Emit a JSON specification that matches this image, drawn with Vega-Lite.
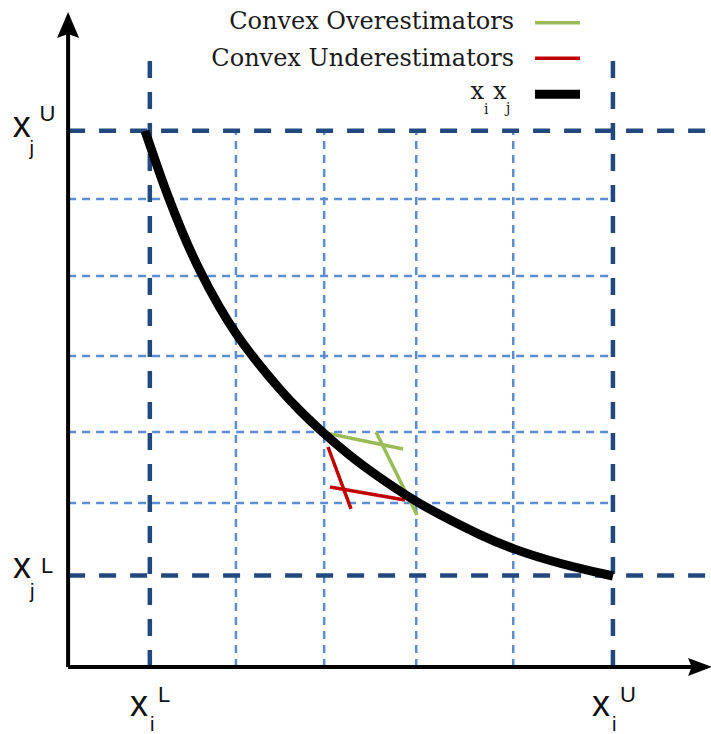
{
  "$schema": "https://vega.github.io/schema/vega-lite/v6.json",
  "width": 711,
  "height": 734,
  "padding": 0,
  "autosize": {"type": "none"},
  "config": {"view": {"stroke": null}},
  "datasets": {
    "thin": [
      {"x": 30.8, "y": 0, "x2": 30.8, "y2": 100},
      {"x": 47.0, "y": 0, "x2": 47.0, "y2": 100},
      {"x": 63.9, "y": 0, "x2": 63.9, "y2": 100},
      {"x": 81.7, "y": 0, "x2": 81.7, "y2": 100},
      {"x": 0, "y": 87.28, "x2": 100, "y2": 87.28},
      {"x": 0, "y": 72.92, "x2": 100, "y2": 72.92},
      {"x": 0, "y": 58.0, "x2": 100, "y2": 58.0},
      {"x": 0, "y": 43.83, "x2": 100, "y2": 43.83},
      {"x": 0, "y": 30.59, "x2": 100, "y2": 30.59}
    ],
    "thick": [
      {"x": 15.0, "y": 0, "x2": 15.0, "y2": 115.1},
      {"x": 100.0, "y": 0, "x2": 100.0, "y2": 115.1},
      {"x": 0, "y": 100.0, "x2": 118, "y2": 100.0},
      {"x": 0, "y": 17.06, "x2": 118, "y2": 17.06}
    ],
    "curve": [
      {"x": 14.12, "y": 99.97}, {"x": 16.32, "y": 93.44}, {"x": 18.15, "y": 88.22},
      {"x": 20.91, "y": 81.13}, {"x": 23.84, "y": 74.42}, {"x": 27.88, "y": 66.77},
      {"x": 30.82, "y": 62.11}, {"x": 33.76, "y": 58.0}, {"x": 38.9, "y": 51.66},
      {"x": 42.57, "y": 47.74}, {"x": 46.6, "y": 43.83}, {"x": 51.74, "y": 39.35},
      {"x": 57.25, "y": 35.25}, {"x": 63.86, "y": 30.77}, {"x": 70.1, "y": 27.41},
      {"x": 75.61, "y": 24.62}, {"x": 81.48, "y": 22.01}, {"x": 90.29, "y": 19.21},
      {"x": 100.02, "y": 16.97}
    ],
    "est": [
      {"x": 47.34, "y": 43.64, "x2": 61.47, "y2": 40.66, "kind": "over"},
      {"x": 56.52, "y": 43.83, "x2": 64.04, "y2": 28.35, "kind": "over"},
      {"x": 47.71, "y": 41.03, "x2": 51.93, "y2": 29.47, "kind": "under"},
      {"x": 48.07, "y": 33.57, "x2": 61.84, "y2": 31.14, "kind": "under"},
      {"x": 85.7, "y": 120.15, "x2": 93.96, "y2": 120.15, "kind": "over"},
      {"x": 85.7, "y": 113.53, "x2": 93.96, "y2": 113.53, "kind": "under"}
    ],
    "legendBlack": [
      {"x": 85.7, "y": 106.81, "x2": 93.96, "y2": 106.81}
    ],
    "yArrow": [{"x": 0, "y": 119.74}],
    "xArrow": [{"x": 115.99, "y": 0}],
    "axisLines": [
      {"x": 0, "y": 0, "x2": 0, "y2": 118.2},
      {"x": 0, "y": 0, "x2": 114.5, "y2": 0}
    ],
    "legendText": [
      {"x": 81.85, "y": 118.99, "text": "Convex Overestimators"},
      {"x": 81.85, "y": 112.09, "text": "Convex Underestimators"}
    ],
    "legendX": [
      {"x": 73.86, "y": 105.94, "text": "x"},
      {"x": 77.99, "y": 105.94, "text": "x"}
    ],
    "legendSub": [
      {"x": 76.34, "y": 103.14, "text": "i"},
      {"x": 80.38, "y": 103.32, "text": "j"}
    ],
    "bigX": [
      {"x": -10.17, "y": 98.85, "text": "x"},
      {"x": -10.11, "y": 16.6, "text": "x"},
      {"x": 11.36, "y": -9.14, "text": "x"},
      {"x": 96.16, "y": -9.14, "text": "x"}
    ],
    "subs": [
      {"x": -7.09, "y": 95.49, "text": "j"},
      {"x": -6.99, "y": 12.87, "text": "j"},
      {"x": 15.03, "y": -11.94, "text": "i"},
      {"x": 99.83, "y": -11.94, "text": "i"}
    ],
    "sups": [
      {"x": -5.25, "y": 101.83, "text": "U"},
      {"x": -4.97, "y": 17.53, "text": "L"},
      {"x": 16.5, "y": -6.53, "text": "L"},
      {"x": 101.3, "y": -6.53, "text": "U"}
    ]
  },
  "encoding": {
    "x": {"field": "x", "type": "quantitative", "scale": {"domain": [-12.5, 118], "nice": false, "zero": false}, "axis": null},
    "y": {"field": "y", "type": "quantitative", "scale": {"domain": [-12.5, 124.4], "nice": false, "zero": false}, "axis": null}
  },
  "layer": [
    {
      "data": {"name": "thin"},
      "mark": {"type": "rule", "color": "#5b8dd0", "strokeWidth": 2.5, "strokeDash": [8, 6]},
      "encoding": {"x2": {"field": "x2"}, "y2": {"field": "y2"}}
    },
    {
      "data": {"name": "thick"},
      "mark": {"type": "rule", "color": "#22497f", "strokeWidth": 4.5, "strokeDash": [17, 14]},
      "encoding": {"x2": {"field": "x2"}, "y2": {"field": "y2"}}
    },
    {
      "data": {"name": "est"},
      "mark": {"type": "rule", "strokeWidth": 3.5, "strokeCap": "butt"},
      "encoding": {
        "x2": {"field": "x2"}, "y2": {"field": "y2"},
        "color": {"field": "kind", "type": "nominal", "scale": {"domain": ["over", "under"], "range": ["#9bbb59", "#c00000"]}, "legend": null}
      }
    },
    {
      "data": {"name": "curve"},
      "mark": {"type": "line", "color": "#000000", "strokeWidth": 9, "interpolate": "basis", "strokeCap": "butt"},
      "encoding": {}
    },
    {
      "data": {"name": "legendBlack"},
      "mark": {"type": "rule", "color": "#000000", "strokeWidth": 9, "strokeCap": "butt"},
      "encoding": {"x2": {"field": "x2"}, "y2": {"field": "y2"}}
    },
    {
      "data": {"name": "axisLines"},
      "mark": {"type": "rule", "color": "#000000", "strokeWidth": 4, "strokeCap": "butt"},
      "encoding": {"x2": {"field": "x2"}, "y2": {"field": "y2"}}
    },
    {
      "data": {"name": "yArrow"},
      "mark": {"type": "point", "shape": "M0,-1L0.85,1L0,0.7L-0.85,1Z", "size": 676, "filled": true, "color": "#000000", "opacity": 1, "strokeWidth": 0}
    },
    {
      "data": {"name": "xArrow"},
      "mark": {"type": "point", "shape": "M1,0L-1,0.75L-0.7,0L-1,-0.75Z", "size": 576, "filled": true, "color": "#000000", "opacity": 1, "strokeWidth": 0}
    },
    {
      "data": {"name": "legendText"},
      "mark": {"type": "text", "font": "DejaVu Serif", "fontSize": 24, "align": "right", "baseline": "alphabetic", "color": "#1a1a1a"},
      "encoding": {"text": {"field": "text"}}
    },
    {
      "data": {"name": "legendX"},
      "mark": {"type": "text", "font": "DejaVu Serif", "fontSize": 24, "align": "left", "baseline": "alphabetic", "color": "#1a1a1a"},
      "encoding": {"text": {"field": "text"}}
    },
    {
      "data": {"name": "legendSub"},
      "mark": {"type": "text", "font": "DejaVu Serif", "fontSize": 14, "align": "left", "baseline": "alphabetic", "color": "#1a1a1a"},
      "encoding": {"text": {"field": "text"}}
    },
    {
      "data": {"name": "bigX"},
      "mark": {"type": "text", "font": "Liberation Sans", "fontSize": 36, "align": "left", "baseline": "alphabetic", "color": "#111111"},
      "encoding": {"text": {"field": "text"}}
    },
    {
      "data": {"name": "subs"},
      "mark": {"type": "text", "font": "Liberation Sans", "fontSize": 20, "align": "left", "baseline": "alphabetic", "color": "#111111"},
      "encoding": {"text": {"field": "text"}}
    },
    {
      "data": {"name": "sups"},
      "mark": {"type": "text", "font": "Liberation Sans", "fontSize": 22, "align": "left", "baseline": "alphabetic", "color": "#111111"},
      "encoding": {"text": {"field": "text"}}
    }
  ]
}
